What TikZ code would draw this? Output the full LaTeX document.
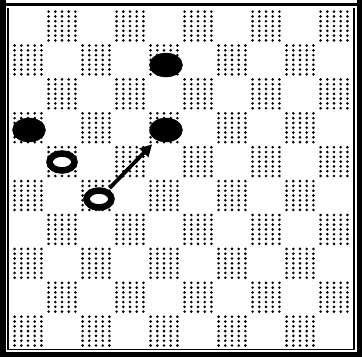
\documentclass[tikz,border=0pt]{standalone}
\usetikzlibrary{shapes.geometric,arrows.meta}
\begin{document}
\begin{tikzpicture}[x=1pt,y=-1pt,
  blackman/.style={ellipse,fill=black,draw=black,minimum width=33pt,minimum height=24pt,inner sep=0pt},
  whiteman/.style={ellipse,fill=white,draw=black,line width=6.5pt,minimum width=25pt,minimum height=17pt,inner sep=0pt},
  movearrow/.style={line width=3.8pt,-{Triangle[length=12pt,width=12pt]},shorten <=2pt,shorten >=6pt}]
\useasboundingbox (0,0) rectangle (362,357);
% dotted squares
\foreach \r in {0,...,9}{
  \foreach \c in {0,...,9}{
    \pgfmathtruncatemacro{\odd}{mod(\r+\c,2)}
    \ifnum\odd=1
      \foreach \i in {0,...,4}{
        \foreach \j in {0,...,6}{
          \fill ({11+34*\c+3.6+6.7*\i},{9+33.9*\r+2.6+4.8*\j}) circle (1.45);
        }
      }
    \fi
  }
}
% frame
\draw[line width=3pt] (3,4.5) rectangle (358.5,354);
\fill (0,0) rectangle (5.5,357);
\fill (0,352) rectangle (362,357);
\fill (356.5,0) rectangle (362,357);
\draw[line width=1.2pt] (8,8) -- (8,349.5) -- (354,349.5) -- (354,8);
% pieces
\node[blackman] (b1) at (166,65) {};
\node[blackman] (b2) at (29,130) {};
\node[blackman] (b3) at (166,130) {};
\node[whiteman] (w1) at (62,162) {};
\node[whiteman] (w2) at (99,199) {};
\draw[movearrow] (w2) -- (b3);
\end{tikzpicture}
\end{document}
